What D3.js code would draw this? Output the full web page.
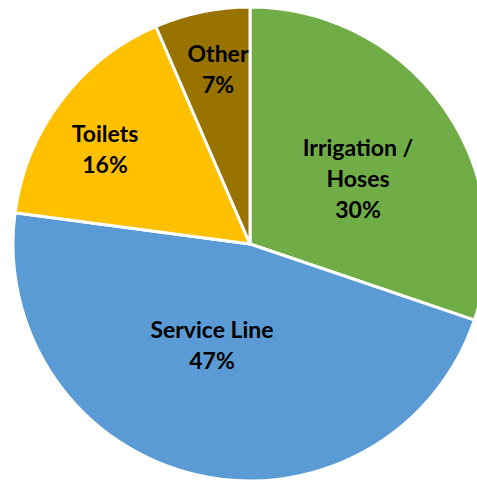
<!DOCTYPE html>
<html><head><meta charset="utf-8">
<script src="https://cdn.jsdelivr.net/npm/d3@7"></script>
<style>body{margin:0;background:#fff}svg{display:block}</style>
</head><body>
<svg id="c" width="477" height="483"></svg>
<script>
const categories = ["Irrigation / Hoses", "Service Line", "Toilets", "Other"];
const values = [30.2, 46.9, 16.4, 6.5];
const labelLines = [["Irrigation /", "Hoses", "30%"], ["Service Line", "47%"], ["Toilets", "16%"], ["Other", "7%"]];
const colors = ["#70AD47", "#5B9BD5", "#FFC000", "#997300"];
const labelPos = [[358, 156], [212, 338], [105, 142], [218, 62]];

const svg = d3.select("#c");
const cx = 250, cy = 244, r = 237;
const pie = d3.pie().sort(null).value(d => d)(values);
const arc = d3.arc().innerRadius(0).outerRadius(r);
const g = svg.append("g").attr("transform", `translate(${cx},${cy})`);
g.selectAll("path").data(pie).join("path")
  .attr("d", arc).attr("fill", (d, i) => colors[i])
  .attr("stroke", "#fff").attr("stroke-width", 3).attr("stroke-linejoin", "round");

const lh = 31;
labelLines.forEach((lines, i) => {
  const [x, y] = labelPos[i];
  const t = svg.append("text").attr("x", x).attr("text-anchor", "middle")
    .attr("font-family", "Lato, 'Open Sans', sans-serif").attr("font-weight", "bold")
    .attr("font-size", 23).attr("fill", "#000");
  lines.forEach((s, j) => {
    t.append("tspan").attr("x", x).attr("y", y + j * lh).text(s);
  });
});
</script>
</body></html>
